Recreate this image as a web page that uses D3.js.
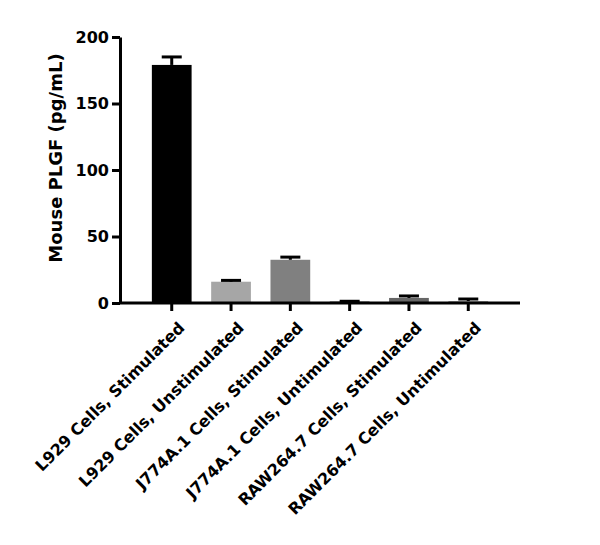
<!DOCTYPE html><html><head><script src="https://cdn.jsdelivr.net/npm/d3@7"></script>
<style>body{margin:0;background:#fff}</style></head><body><svg id="c" width="600" height="545"></svg>
<script>
const categories=["L929 Cells, Stimulated","L929 Cells, Unstimulated","J774A.1 Cells, Stimulated","J774A.1 Cells, Untimulated","RAW264.7 Cells, Stimulated","RAW264.7 Cells, Untimulated"];
const values=[179,16,32.5,1,3.8,1.5];
const errors=[6,1,2,0.3,1.5,1.5];
const colors=["#000","#a6a6a6","#808080","#000","#666","#a6a6a6"];
const yTicks=[0,50,100,150,200];
const svg=d3.select("#c");
const x=d3.scaleBand().domain(categories).range([140,500]).paddingInner(0.33).paddingOuter(0.2);
const y=d3.scaleLinear().domain([0,200]).range([303,37]);
const font="'DejaVu Sans', sans-serif";
svg.selectAll(".bar").data(values).join("rect").attr("x",(d,i)=>x(categories[i])).attr("width",x.bandwidth())
 .attr("y",d=>y(d)).attr("height",d=>y(0)-y(d)).attr("fill",(d,i)=>colors[i]);
const eg=svg.selectAll(".err").data(values).join("g");
eg.append("line").attr("x1",(d,i)=>x(categories[i])+x.bandwidth()/2).attr("x2",(d,i)=>x(categories[i])+x.bandwidth()/2)
 .attr("y1",d=>y(d)).attr("y2",(d,i)=>y(d+errors[i])).attr("stroke","#000").attr("stroke-width",3);
eg.append("line").attr("x1",(d,i)=>x(categories[i])+x.bandwidth()/2-10).attr("x2",(d,i)=>x(categories[i])+x.bandwidth()/2+10)
 .attr("y1",(d,i)=>y(d+errors[i])).attr("y2",(d,i)=>y(d+errors[i])).attr("stroke","#000").attr("stroke-width",3);
const ya=svg.append("g").attr("transform","translate(120,0)").call(d3.axisLeft(y).tickValues(yTicks).tickSize(8).tickSizeOuter(0));
ya.select(".domain").attr("stroke-width",3);ya.selectAll("line").attr("stroke-width",3);
ya.selectAll("text").attr("font-family",font).attr("font-weight","bold").attr("font-size",16).attr("fill","#000");
const xa=svg.append("g").attr("transform","translate(0,303)").call(d3.axisBottom(x).tickSize(8).tickSizeOuter(0));
xa.select(".domain").attr("d","M120,0H520").attr("stroke-width",3);xa.selectAll("line").attr("stroke-width",3);
xa.selectAll("text").attr("font-family",font).attr("font-weight","bold").attr("font-size",16).attr("fill","#000")
 .attr("text-anchor","end").attr("dy","0").attr("transform","translate(6,18) rotate(-45)");
svg.append("text").attr("transform","translate(62,158) rotate(-90)").attr("text-anchor","middle")
 .attr("font-family",font).attr("font-weight","bold").attr("font-size",18).text("Mouse PLGF (pg/mL)");
</script></body></html>
